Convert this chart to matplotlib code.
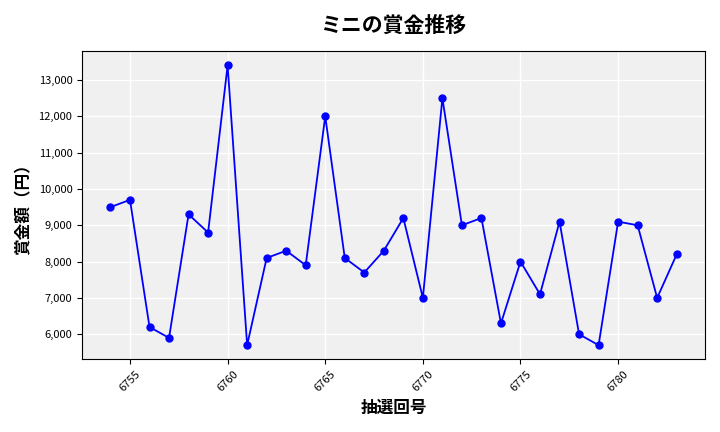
import matplotlib
matplotlib.use("Agg")
import matplotlib.pyplot as plt
from matplotlib.ticker import FuncFormatter

plt.rcParams['font.family'] = ['Noto Sans CJK JP', 'DejaVu Sans']

draws = list(range(6754, 6784))
prizes = [9500, 9700, 6200, 5900, 9300, 8800, 13400, 5700, 8100, 8300,
          7900, 12000, 8100, 7700, 8300, 9200, 7000, 12500, 9000, 9200,
          6300, 8000, 7100, 9100, 6000, 5700, 9100, 9000, 7000, 8200]

fig, ax = plt.subplots(figsize=(7.2, 4.32), dpi=100)
ax.set_facecolor('#f0f0f0')
ax.grid(True, color='white', linewidth=1)
ax.set_axisbelow(True)
ax.plot(draws, prizes, color='blue', marker='o', markersize=5, linewidth=1.3)
ax.set_title('ミニの賞金推移', fontsize=15, fontweight='bold', pad=14)
ax.set_xlabel('抽選回号', fontsize=12, fontweight='bold')
ax.set_ylabel('賞金額（円）', fontsize=12, fontweight='bold')
ax.yaxis.set_major_formatter(FuncFormatter(lambda v, p: f'{int(v):,}'))
ax.set_xticks(range(6755, 6784, 5))
ax.tick_params(axis='x', labelrotation=45, labelsize=8)
ax.tick_params(axis='y', labelsize=8)
fig.tight_layout()
fig.savefig('out.png')
